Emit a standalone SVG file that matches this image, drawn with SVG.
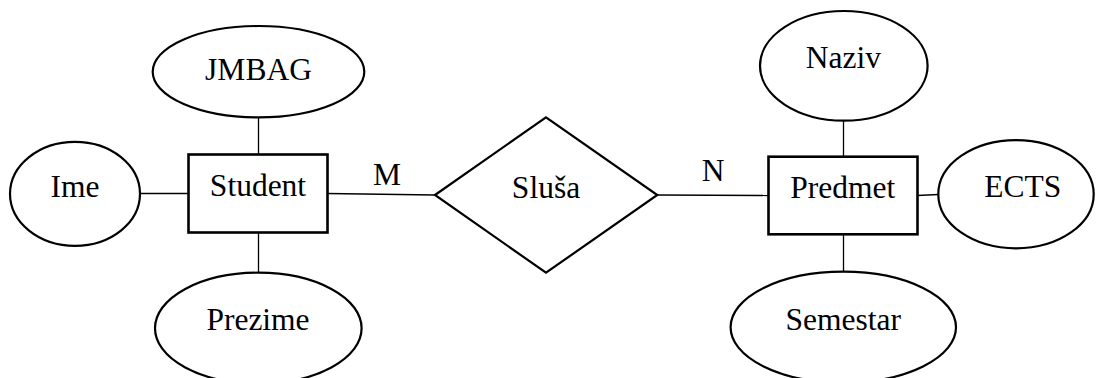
<svg xmlns="http://www.w3.org/2000/svg" width="1096" height="378" viewBox="0 0 1096 378">
<style>
.bg{fill:#ffffff}
.attr{fill:#ffffff;stroke:#000000;stroke-width:2.2}
.ent{fill:#ffffff;stroke:#000000;stroke-width:2.6}
.rel{fill:#ffffff;stroke:#000000;stroke-width:2.2}
.conn line{stroke:#000000;stroke-width:1.3}
text{font-family:"Liberation Serif","Times New Roman",serif;font-size:31.5px;fill:#000000;text-anchor:middle}
</style>
<rect class="bg" x="0" y="0" width="1096" height="378"/>
<g id="connectors" class="conn">
  <line x1="258.5" y1="117" x2="258.5" y2="155"/>
  <line x1="140" y1="193.5" x2="189" y2="193.5"/>
  <line x1="258.5" y1="232" x2="258.5" y2="273"/>
  <line x1="327" y1="193.5" x2="435" y2="195"/>
  <line x1="657" y1="195" x2="769" y2="195.5"/>
  <line x1="843.5" y1="120.5" x2="843.5" y2="157"/>
  <line x1="843.5" y1="234" x2="843.5" y2="272"/>
  <line x1="917" y1="195.5" x2="938.5" y2="194.5"/>
</g>
<g id="label-M"><text x="387" y="185">M</text></g>
<g id="label-N"><text x="713" y="181">N</text></g>
<g id="JMBAG">
  <ellipse class="attr" cx="258.5" cy="71.7" rx="105.8" ry="45.7"/>
  <text x="258.5" y="80">JMBAG</text>
</g>
<g id="Ime">
  <ellipse class="attr" cx="75" cy="193.8" rx="65" ry="52"/>
  <text x="75" y="196.7">Ime</text>
</g>
<g id="Student">
  <rect class="ent" x="188.5" y="154.5" width="139" height="78"/>
  <text x="258" y="196">Student</text>
</g>
<g id="Prezime">
  <ellipse class="attr" cx="258.3" cy="328.2" rx="103.3" ry="55.5"/>
  <text x="258" y="329.5">Prezime</text>
</g>
<g id="Slusa">
  <polygon class="rel" points="435,195 546,117.3 657.3,195 546,272.7"/>
  <text x="546" y="197.7">Sluša</text>
</g>
<g id="Naziv">
  <ellipse class="attr" cx="843.8" cy="65.8" rx="83.8" ry="54.8"/>
  <text x="843.3" y="68.3">Naziv</text>
</g>
<g id="Predmet">
  <rect class="ent" x="768.5" y="156.7" width="149" height="77.6"/>
  <text x="842.7" y="197.7">Predmet</text>
</g>
<g id="ECTS">
  <ellipse class="attr" cx="1016" cy="194.2" rx="77.7" ry="54.1"/>
  <text x="1022.7" y="196.7">ECTS</text>
</g>
<g id="Semestar">
  <ellipse class="attr" cx="843.3" cy="327.2" rx="112.7" ry="55.5"/>
  <text x="843.3" y="329.5">Semestar</text>
</g>
</svg>
